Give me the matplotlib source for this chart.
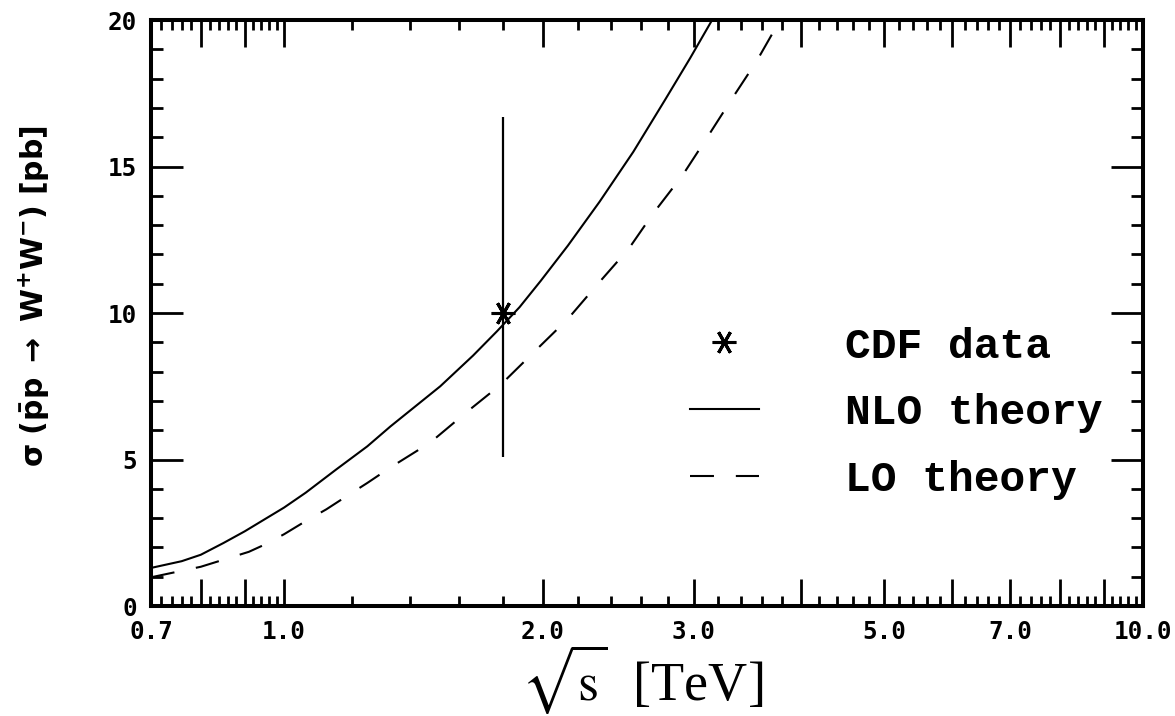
import matplotlib

matplotlib.use("Agg")
import matplotlib.pyplot as plt
import numpy as np
from matplotlib.ticker import FixedLocator, FixedFormatter, NullFormatter

# sigma(ppbar -> W+W-) [pb] versus sqrt(s) [TeV]
nlo_sqrt_s = [0.70, 0.76, 0.80, 0.85, 0.90, 1.00, 1.06, 1.15, 1.25, 1.33, 1.52, 1.66, 1.77, 1.88, 1.99,
              2.14, 2.33, 2.55, 2.78, 2.97, 3.15]
nlo_sigma = [1.30, 1.53, 1.75, 2.15, 2.55, 3.36, 3.87, 4.66, 5.45, 6.13, 7.50, 8.55, 9.38, 10.2, 11.1,
             12.3, 13.8, 15.5, 17.3, 18.7, 20.0]

lo_sqrt_s = [0.70, 0.80, 0.85, 0.91, 0.95, 1.00, 1.06, 1.12, 1.19, 1.25, 1.33, 1.48, 1.63, 1.79, 1.97,
             2.14, 2.32, 2.52, 2.69, 2.91, 3.11, 3.32, 3.55, 3.78]
lo_sigma = [0.98, 1.34, 1.58, 1.85, 2.10, 2.45, 2.90, 3.30, 3.80, 4.20, 4.73, 5.58, 6.61, 7.57, 8.77,
            9.80, 11.0, 12.2, 13.4, 14.7, 16.0, 17.3, 18.6, 20.0]

cdf_sqrt_s = [1.8]
cdf_sigma = [10.0]
cdf_err_low = [4.9]
cdf_err_high = [6.7]

x_ticks = [0.7, 0.8, 0.9, 1, 2, 3, 4, 5, 6, 7, 8, 9, 10]
x_tick_labels = ["0.7", "", "", "1.0", "2.0", "3.0", "", "5.0", "", "7.0", "", "", "10.0"]
y_ticks = [0, 5, 10, 15, 20]
y_tick_labels = ["0", "5", "10", "15", "20"]
series_labels = ["CDF data", "NLO theory", "LO theory"]

fig = plt.figure(figsize=(11.75, 7.16), dpi=100)
ax = fig.add_axes([0.1285, 0.1536, 0.8443, 0.8184])

ax.plot(nlo_sqrt_s, nlo_sigma, color="black", lw=1.5, label=series_labels[1], zorder=3)
ax.plot(lo_sqrt_s, lo_sigma, color="black", lw=1.5, linestyle=(0, (11.5, 10.5)), label=series_labels[2], zorder=3)
ax.errorbar(cdf_sqrt_s, cdf_sigma, yerr=[cdf_err_low, cdf_err_high], fmt="none", ecolor="black", elinewidth=1.6, capsize=0, zorder=4)
ax.plot(cdf_sqrt_s, cdf_sigma, linestyle="none", marker=(6, 2, 90), markersize=17, markeredgewidth=2.2,
        color="black", label=series_labels[0], zorder=5)

ax.set_xscale("log")
ax.set_xlim(0.7, 10)
ax.set_ylim(0, 20)

# minor ticks every 0.02 below 1 TeV, every 0.2 above
minor_x = [round(v, 2) for v in np.arange(0.72, 0.99, 0.02) if abs(v - 0.8) > 1e-6 and abs(v - 0.9) > 1e-6]
minor_x += [round(v, 1) for v in np.arange(1.2, 9.9, 0.2) if abs(v - round(v)) > 1e-6]
ax.xaxis.set_major_locator(FixedLocator(x_ticks))
ax.xaxis.set_major_formatter(FixedFormatter(x_tick_labels))
ax.xaxis.set_minor_locator(FixedLocator(minor_x))
ax.xaxis.set_minor_formatter(NullFormatter())
ax.yaxis.set_major_locator(FixedLocator(y_ticks))
ax.yaxis.set_major_formatter(FixedFormatter(y_tick_labels))
ax.yaxis.set_minor_locator(FixedLocator(list(range(1, 20))))

for lab in ax.get_xticklabels() + ax.get_yticklabels():
    lab.set_fontfamily("DejaVu Sans Mono"); lab.set_fontweight("bold"); lab.set_fontsize(17.5)

ax.tick_params(axis="x", which="major", direction="in", length=19.5, width=2, top=True, pad=10)
ax.tick_params(axis="x", which="minor", direction="in", length=7, width=2, top=True)
ax.tick_params(axis="y", which="major", direction="in", length=23, width=2, right=True, pad=10)
ax.tick_params(axis="y", which="minor", direction="in", length=8.6, width=2, right=True)
for spine in ax.spines.values():
    spine.set_linewidth(2.9)

handles, labels = ax.get_legend_handles_labels()
order = [labels.index(name) for name in series_labels]
ax.legend([handles[i] for i in order], [labels[i] for i in order], loc="upper left", bbox_to_anchor=(0.543, 0.477),
          frameon=False, borderpad=0, borderaxespad=0, handlelength=1.6, handletextpad=2.0, labelspacing=0.62,
          prop={"family": "Liberation Mono", "weight": "bold", "size": 31})

fig.text(642 / 1175, 1 - 701 / 716, r"$\sqrt{\mathrm{s}}$  [TeV]", ha="center", va="baseline", fontsize=39,
         family="Liberation Serif", math_fontfamily="stix")
fig.text(34 / 1175, 1 - 296 / 716, r"$\mathbf{\sigma\ (\bar{p}p\ \rightarrow\ W^{+}W^{-})\ [pb]}$", rotation=90,
         ha="center", va="center", fontsize=21.5)

fig.savefig("out.png", dpi=100)
